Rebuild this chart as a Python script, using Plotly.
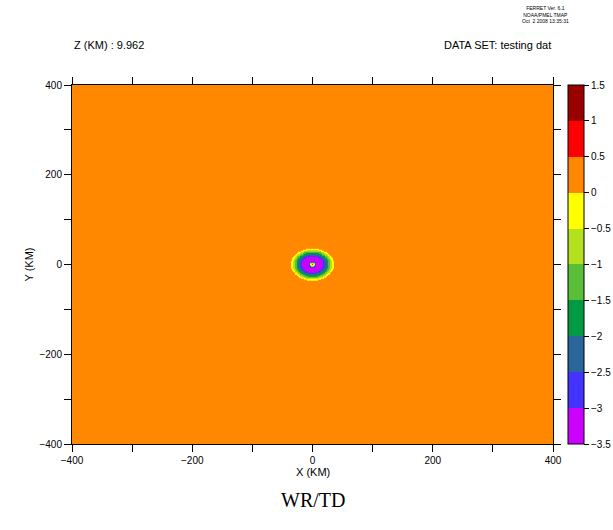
import numpy as np
import plotly.graph_objects as go

# ---- data ----
# grid: coarse far away, fine around the central feature
x_km = np.concatenate([np.arange(-400, -50, 10), np.arange(-50, 51, 1), np.arange(60, 401, 10)])
y_km = np.concatenate([np.arange(-400, -50, 10), np.arange(-50, 51, 1), np.arange(60, 401, 10)])
# radial profile of the central feature (outer radius of each ring, km) and value in ring
ring_outer_km = [2, 3.5, 5, 7, 18, 21, 24, 27, 30, 33, 36]
ring_value = [0.75, -0.25, -0.75, -2.75, -3.25, -2.75, -2.25, -1.75, -1.25, -0.75, -0.25]
background_value = 0.25

level_edges = [-3.5, -3, -2.5, -2, -1.5, -1, -0.5, 0, 0.5, 1, 1.5]
level_colors = ["#CC00FF", "#4433FF", "#2A6699", "#009944", "#5ABF38",
                "#B5E01E", "#FFFF00", "#FF8800", "#FF0000", "#990000"]
cbar_ticks = [-3.5, -3, -2.5, -2, -1.5, -1, -0.5, 0, 0.5, 1, 1.5]
cbar_ticktext = ["\u22123.5", "\u22123", "\u22122.5", "\u22122", "\u22121.5", "\u22121",
                 "\u22120.5", "0", "0.5", "1", "1.5"]
axis_ticks = [-400, -300, -200, -100, 0, 100, 200, 300, 400]
axis_ticktext = ["\u2212400", "", "\u2212200", "", "0", "", "200", "", "400"]

# ---- build field ----
X, Y = np.meshgrid(x_km, y_km)
R = np.hypot(X, Y)
vals = np.array(ring_value + [background_value])
idx = np.digitize(R, ring_outer_km)
Z = vals[idx]

zmin, zmax = level_edges[0], level_edges[-1]
cs = []
for i, c in enumerate(level_colors):
    a = (level_edges[i] - zmin) / (zmax - zmin)
    b = (level_edges[i + 1] - zmin) / (zmax - zmin)
    cs.append([a, c])
    cs.append([b, c])

font = dict(family="Liberation Sans, Arial, sans-serif", size=10, color="black")

fig = go.Figure(go.Heatmap(
    x=x_km, y=y_km, z=Z, zmin=zmin, zmax=zmax, colorscale=cs, zsmooth=False,
    colorbar=dict(x=1.031, xanchor="left", y=0, yanchor="bottom", len=1, lenmode="fraction",
                  thickness=16, thicknessmode="pixels", outlinewidth=1, outlinecolor="black",
                  tickvals=cbar_ticks, ticktext=cbar_ticktext, ticks="outside", ticklen=5,
                  tickcolor="black", tickfont=font, xpad=0, ypad=0),
    hoverinfo="skip",
))

axis_common = dict(tickvals=axis_ticks, ticktext=axis_ticktext, ticks="outside", ticklen=7,
                   tickcolor="black", showline=True, linecolor="black", linewidth=1,
                   mirror="ticks", showgrid=False, zeroline=False, range=[-400, 400],
                   tickfont=font, automargin=False, fixedrange=True)
fig.update_xaxes(**axis_common)
fig.update_yaxes(**axis_common)

fig.update_layout(
    width=613, height=530, margin=dict(l=72, r=60, t=85, b=86, autoexpand=False),
    paper_bgcolor="white", plot_bgcolor="white", font=font,
    annotations=[
        dict(text="Z (KM) : 9.962", x=0, y=45, xref="paper", yref="paper", showarrow=False,
             xanchor="left", yanchor="middle", font=dict(size=11)),
        dict(text="DATA SET: testing dat", x=1, xref="paper", y=45, showarrow=False,
             xanchor="right", yanchor="middle", font=dict(size=11)),
        dict(text="FERRET Ver. 6.1<br>NOAA/PMEL TMAP<br>Oct  2 2008 13:35:31", x=545,
             y=14, showarrow=False, xanchor="center", yanchor="middle",
             font=dict(size=5), align="center"),
        dict(text="X (KM)", x=0.5, xref="paper", y=472, showarrow=False, xanchor="center",
             yanchor="middle", font=dict(size=11)),
        dict(text="Y (KM)", x=28, y=0.5, yref="paper", showarrow=False, xanchor="center",
             yanchor="middle", textangle=-90, font=dict(size=11)),
        dict(text="WR/TD", x=0.5, xref="paper", y=500, showarrow=False, xanchor="center",
             yanchor="middle", font=dict(family="Liberation Serif, serif", size=20)),
    ],
)
# convert pixel positions to paper coords for the annotations
plot_h = 530 - 85 - 86
plot_w = 613 - 72 - 60
for a in fig.layout.annotations:
    if a.yref != "paper" or a.y > 2:
        a.yref = "paper"
        a.y = (530 - 86 - a.y) / plot_h
    if a.xref != "paper" or (a.x is not None and a.x > 2):
        a.xref = "paper"
        a.x = (a.x - 72) / plot_w

fig.write_html("out.html", config={"displayModeBar": False, "staticPlot": True},
               post_script="document.body.style.margin='0px';document.body.style.overflow='hidden';")
